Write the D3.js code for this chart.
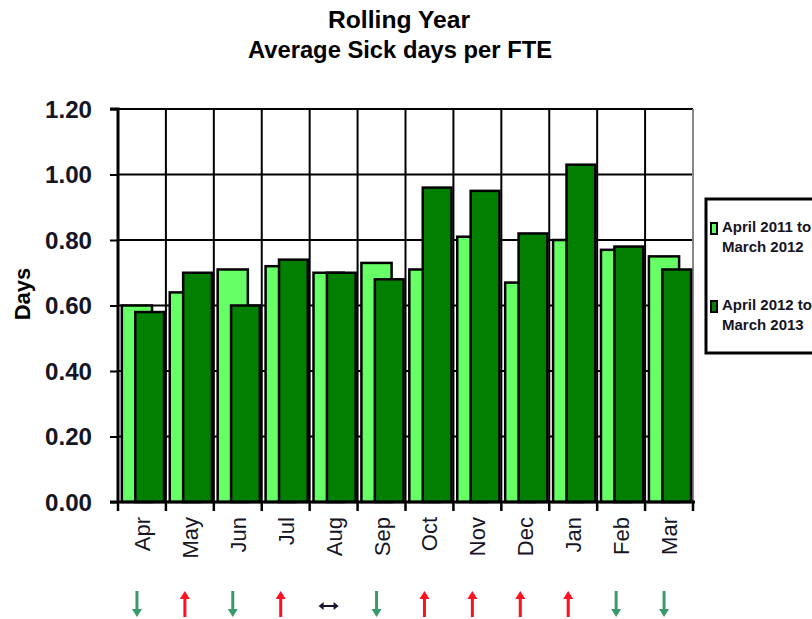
<!DOCTYPE html>
<html><head><meta charset="utf-8">
<script src="https://cdn.jsdelivr.net/npm/d3@7"></script>
<style>body{margin:0;background:#fff}svg{display:block}text{font-family:"Liberation Sans",Arial,sans-serif}</style>
</head><body>
<svg id="c" width="812" height="619"></svg>
<script>
const months = ["Apr","May","Jun","Jul","Aug","Sep","Oct","Nov","Dec","Jan","Feb","Mar"];
const series2011 = [0.60,0.64,0.71,0.72,0.70,0.73,0.71,0.81,0.67,0.80,0.77,0.75];
const series2012 = [0.58,0.70,0.60,0.74,0.70,0.68,0.96,0.95,0.82,1.03,0.78,0.71];
const trends = ["down","up","down","up","flat","down","up","up","up","up","down","down"];
const yTicks = [0,0.2,0.4,0.6,0.8,1.0,1.2];
const seriesNames = [["April 2011 to","March 2012"],["April 2012 to","March 2013"]];
const colors = ["#66FF66","#007F00"];

const svg = d3.select("#c");
const L=118,R=693,T=109,B=502;
const x = d3.scaleBand().domain(months).range([L,R]);
const y = d3.scaleLinear().domain([0,1.2]).range([B,T]);
const bw = x.bandwidth();

// title
svg.append("text").attr("x",399).attr("y",28).attr("text-anchor","middle")
  .attr("font-size",24).attr("font-weight","bold").attr("textLength",142).attr("lengthAdjust","spacingAndGlyphs").text("Rolling Year");
svg.append("text").attr("x",400).attr("y",58).attr("text-anchor","middle")
  .attr("font-size",24).attr("font-weight","bold").attr("textLength",304).attr("lengthAdjust","spacingAndGlyphs").text("Average Sick days per FTE");

// gridlines
svg.append("g").selectAll("line").data(yTicks.slice(1)).join("line")
  .attr("x1",L).attr("x2",R).attr("y1",d=>y(d)).attr("y2",d=>y(d))
  .attr("stroke","#000").attr("stroke-width",2);
svg.append("g").selectAll("line").data(months.slice(1)).join("line")
  .attr("x1",d=>x(d)).attr("x2",d=>x(d)).attr("y1",T).attr("y2",B)
  .attr("stroke","#000").attr("stroke-width",2);
svg.append("line").attr("x1",R).attr("x2",R).attr("y1",T).attr("y2",B)
  .attr("stroke","#888").attr("stroke-width",2);

// bars
const lw = bw*0.63, dw = bw*0.60;
svg.append("g").selectAll("rect").data(series2011).join("rect")
  .attr("x",(d,i)=>x(months[i])+bw*0.08).attr("width",lw)
  .attr("y",d=>y(d)).attr("height",d=>B-y(d))
  .attr("fill",colors[0]).attr("stroke","#000").attr("stroke-width",2.5);
svg.append("g").selectAll("rect").data(series2012).join("rect")
  .attr("x",(d,i)=>x(months[i])+bw*0.36).attr("width",dw)
  .attr("y",d=>y(d)).attr("height",d=>B-y(d))
  .attr("fill",colors[1]).attr("stroke","#000").attr("stroke-width",2.5);

// y axis
const yAxis = d3.axisLeft(y).tickValues(yTicks).tickFormat(d3.format(".2f")).tickSize(8).tickPadding(18);
const gy = svg.append("g").attr("transform",`translate(${L},0)`).call(yAxis);
gy.select(".domain").attr("stroke","#000").attr("stroke-width",3).attr("d",`M-8,${T}H0V${B+1}`);
gy.selectAll(".tick line").attr("stroke","#000").attr("stroke-width",2);
gy.selectAll("text").attr("font-size",23).attr("font-weight","bold").attr("fill","#151525")
  .attr("dy","0.36em").attr("x",-26).attr("textLength",47).attr("lengthAdjust","spacingAndGlyphs");

// x axis
const gx = svg.append("g").attr("transform",`translate(0,${B})`);
gx.append("line").attr("x1",L-8).attr("x2",R+2).attr("y1",0).attr("y2",0).attr("stroke","#000").attr("stroke-width",3);
gx.selectAll("line.t").data(months.concat(["end"])).join("line").attr("class","t")
  .attr("x1",(d,i)=>L+i*bw).attr("x2",(d,i)=>L+i*bw).attr("y1",0).attr("y2",9)
  .attr("stroke","#000").attr("stroke-width",2.5);
gx.selectAll("text").data(months).join("text")
  .attr("transform",d=>`translate(${x(d)+bw/2+8},15) rotate(-90)`)
  .attr("text-anchor","end").attr("font-size",22).attr("fill","#151525").text(d=>d);

// y title
svg.append("text").attr("transform","translate(30,294) rotate(-90)").attr("text-anchor","middle")
  .attr("font-size",22).attr("font-weight","bold").text("Days");

// trend arrows
const ga = svg.append("g");
trends.forEach((t,i)=>{
  const cx = x(months[i])+bw/2-5;
  if(t==="flat"){
    ga.append("path").attr("d",`M${cx-10},606 l5,-4 v3 h10 v-3 l5,4 l-5,4 v-3 h-10 v3 z`).attr("fill","#1a1030");
  } else {
    const col = t==="up" ? "#FF1020" : "#3A9A6E";
    const p = t==="up"
      ? `M${cx},591 l5,8 h-3.5 v18 h-3 v-18 h-3.5 z`
      : `M${cx},617 l5,-8 h-3.5 v-18 h-3 v18 h-3.5 z`;
    ga.append("path").attr("d",p).attr("fill",col);
  }
});

// legend
svg.append("rect").attr("x",706).attr("y",199).attr("width",120).attr("height",154)
  .attr("fill","#fff").attr("stroke","#000").attr("stroke-width",3);
const lg = svg.append("g").selectAll("g").data(seriesNames).join("g")
  .attr("transform",(d,i)=>`translate(710,${232+i*78})`);
lg.append("rect").attr("x",1).attr("y",-9).attr("width",6).attr("height",11)
  .attr("fill",(d,i)=>colors[i]).attr("stroke","#000").attr("stroke-width",2);
lg.append("text").attr("x",12).attr("y",0).attr("font-size",15).attr("font-weight","bold").attr("fill","#151525").text(d=>d[0]);
lg.append("text").attr("x",12).attr("y",20).attr("font-size",15).attr("font-weight","bold").attr("fill","#151525").text(d=>d[1]);
</script>
</body></html>
